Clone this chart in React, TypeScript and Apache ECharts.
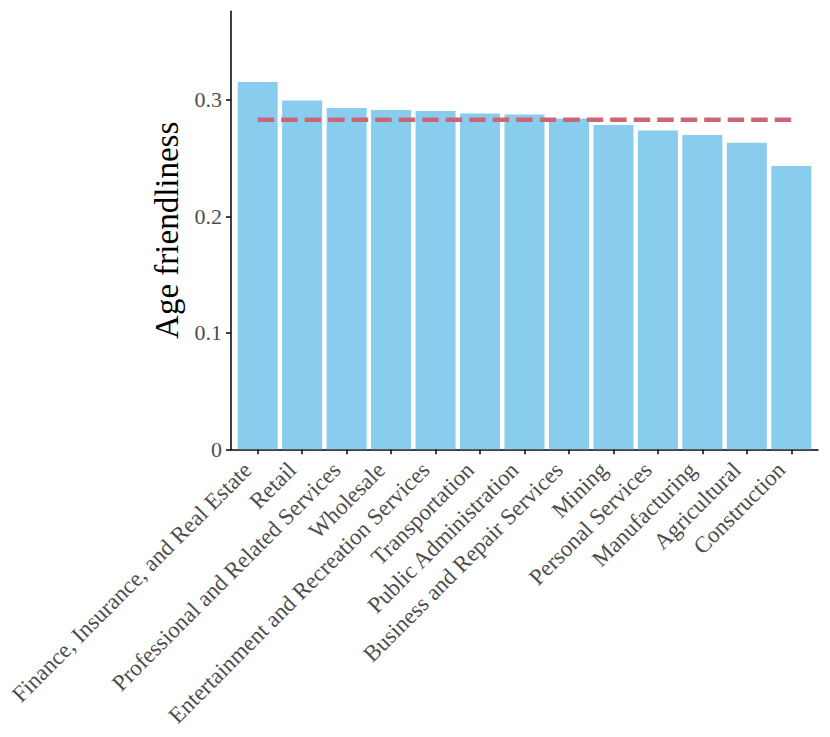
import React, { useEffect, useRef } from "react";
import * as echarts from "echarts";

const categories = [
  "Finance, Insurance, and Real Estate",
  "Retail",
  "Professional and Related Services",
  "Wholesale",
  "Entertainment and Recreation Services",
  "Transportation",
  "Public Administration",
  "Business and Repair Services",
  "Mining",
  "Personal Services",
  "Manufacturing",
  "Agricultural",
  "Construction",
];

const values = [
  0.3153, 0.2995, 0.2929, 0.2912, 0.2905, 0.2883, 0.2875, 0.284, 0.2783,
  0.2737, 0.2698, 0.2631, 0.2431,
];

const meanValue = 0.2829;

const yTicks = [0, 0.1, 0.2, 0.3];

export default function App() {
  const ref = useRef<HTMLDivElement>(null);

  useEffect(() => {
    if (!ref.current) return;
    document.body.style.margin = "0";
    const chart = echarts.init(ref.current, null, { renderer: "svg" });
    const idx = categories.map((_, i) => i);
    const font = "Liberation Serif";
    chart.setOption({
      animation: false,
      backgroundColor: "#ffffff",
      grid: { left: 231, right: 12, top: 11.3, bottom: 287.7, containLabel: false },
      xAxis: {
        type: "value",
        min: -0.6,
        max: 12.6,
        splitLine: { show: false },
        axisLine: { show: true, onZero: false, lineStyle: { color: "#000", width: 1.5 } },
        axisTick: {
          show: true,
          length: 5,
          customValues: idx,
          lineStyle: { color: "#000", width: 1.5 },
        },
        axisLabel: {
          customValues: idx,
          rotate: 45,
          align: "right",
          verticalAlign: "middle",
          margin: 7,
          padding: [0, 14, 0, 0],
          color: "#4D4D4D",
          fontFamily: font,
          fontSize: 23,
          formatter: (v: number) => categories[Math.round(v)] ?? "",
        },
      },
      yAxis: {
        type: "value",
        min: 0,
        max: 0.376,
        name: "Age friendliness",
        nameLocation: "middle",
        nameRotate: 90,
        nameGap: 42,
        nameTextStyle: { color: "#000", fontFamily: font, fontSize: 33 },
        splitLine: { show: false },
        axisLine: { show: true, onZero: false, lineStyle: { color: "#000", width: 1.5 } },
        axisTick: {
          show: true,
          length: 5,
          customValues: yTicks,
          lineStyle: { color: "#000", width: 1.5 },
        },
        axisLabel: {
          customValues: yTicks,
          margin: 9,
          color: "#4D4D4D",
          fontFamily: font,
          fontSize: 22,
          formatter: (v: number) => (v === 0 ? "0" : v.toFixed(1)),
        },
      },
      series: [
        {
          type: "bar",
          data: idx.map((i) => [i, values[i]]),
          barWidth: 40,
          itemStyle: { color: "#88CCEE" },
          silent: true,
        },
        {
          type: "line",
          data: [
            [0, meanValue],
            [12, meanValue],
          ],
          symbol: "none",
          lineStyle: { color: "#CC6677", width: 4.5, type: [16.5, 7], cap: "butt" },
          silent: true,
          z: 3,
        },
      ],
    });
    return () => chart.dispose();
  }, []);

  return <div ref={ref} style={{ width: 830, height: 737 }} />;
}
